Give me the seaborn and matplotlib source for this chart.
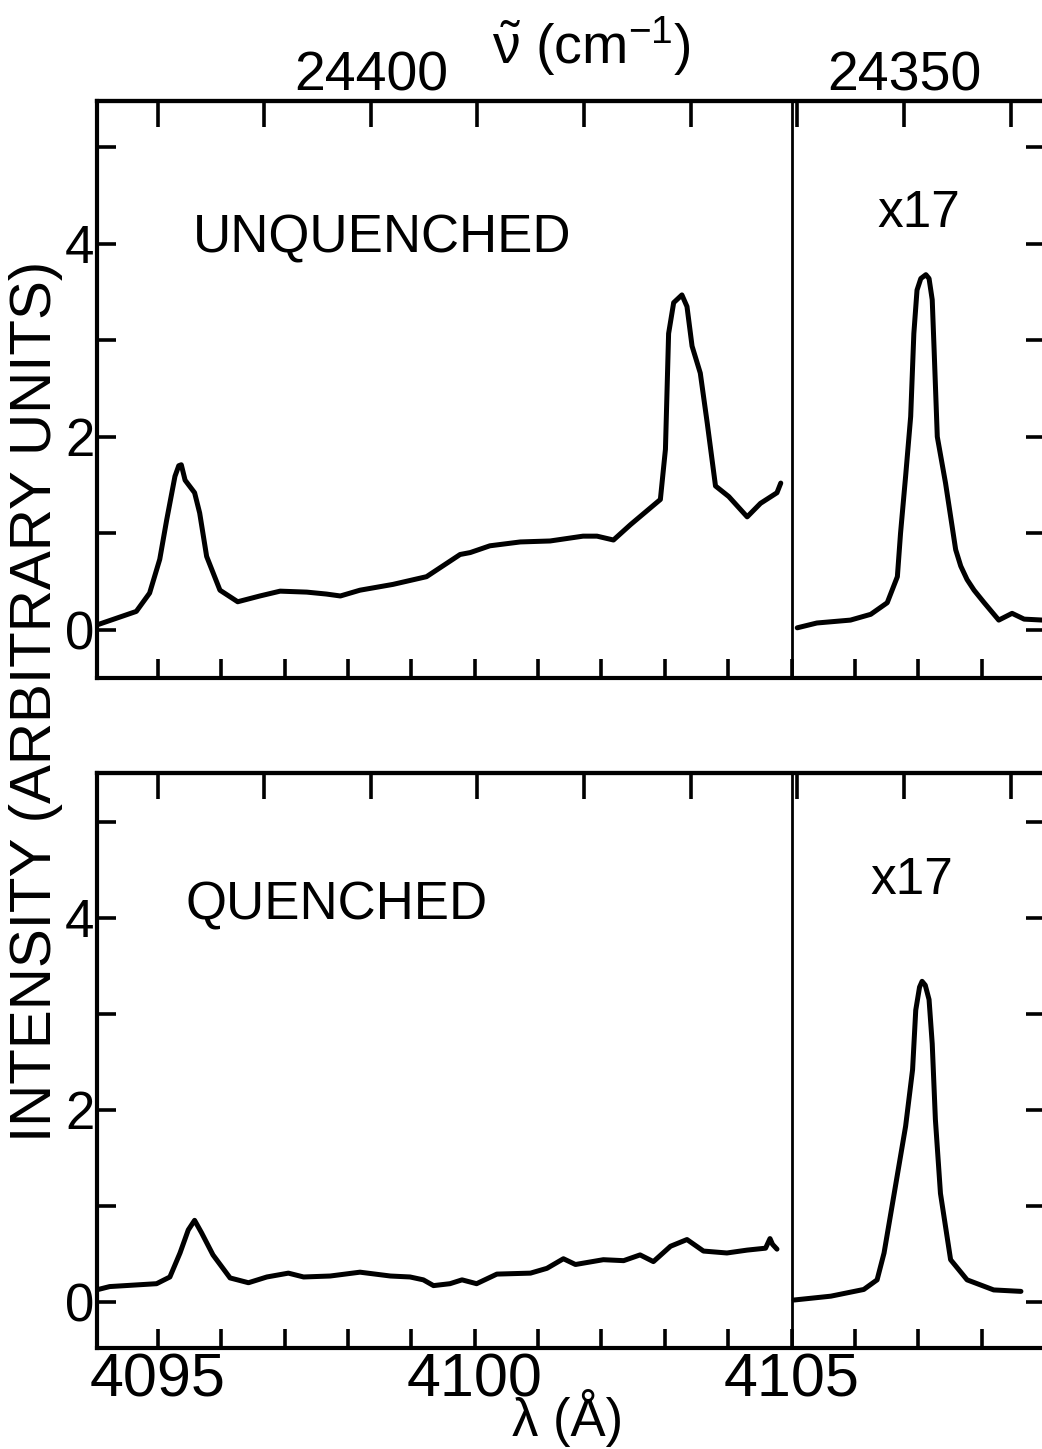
import numpy as np
import pandas as pd
import matplotlib
matplotlib.use("Agg")
import matplotlib.pyplot as plt
import seaborn as sns

# -----------------------------
# DATA
# -----------------------------
# top panel, unquenched, main window (wavelength in Angstrom, intensity arb. units)
top_left_wl = [4094.04, 4094.66, 4094.87, 4095.03, 4095.14, 4095.27, 4095.33, 4095.37,
               4095.43, 4095.58, 4095.66, 4095.77, 4095.98, 4096.26, 4096.61, 4096.93,
               4097.35, 4097.66, 4097.88, 4098.19, 4098.71, 4099.24, 4099.77, 4099.93,
               4100.24, 4100.72, 4101.19, 4101.71, 4101.93, 4102.19, 4102.46, 4102.93,
               4103.01, 4103.06, 4103.14, 4103.27, 4103.35, 4103.43, 4103.56, 4103.67,
               4103.80, 4104.01, 4104.30, 4104.51, 4104.77, 4104.83]
top_left_int = [0.05, 0.19, 0.38, 0.73, 1.14, 1.59, 1.70, 1.71,
                1.55, 1.42, 1.21, 0.76, 0.41, 0.29, 0.35, 0.40,
                0.39, 0.37, 0.35, 0.41, 0.47, 0.55, 0.78, 0.80,
                0.87, 0.91, 0.92, 0.97, 0.97, 0.93, 1.09, 1.35,
                1.87, 3.07, 3.39, 3.47, 3.35, 2.94, 2.66, 2.14,
                1.49, 1.38, 1.17, 1.31, 1.42, 1.52]

# top panel, x17 window
top_right_wl = [4105.09, 4105.40, 4105.93, 4106.25, 4106.51, 4106.67, 4106.72, 4106.80,
                4106.88, 4106.93, 4106.98, 4107.04, 4107.12, 4107.17, 4107.22, 4107.25,
                4107.30, 4107.43, 4107.59, 4107.67, 4107.77, 4107.88, 4108.04, 4108.27,
                4108.48, 4108.67, 4108.97]
top_right_int = [0.02, 0.07, 0.10, 0.16, 0.28, 0.55, 1.00, 1.59,
                 2.21, 3.07, 3.52, 3.64, 3.68, 3.64, 3.42, 2.90,
                 2.00, 1.52, 0.83, 0.66, 0.52, 0.41, 0.28, 0.10,
                 0.17, 0.11, 0.10]

# bottom panel, quenched, main window
bot_left_wl = [4094.00, 4094.24, 4094.98, 4095.19, 4095.35, 4095.48, 4095.58, 4095.69,
               4095.87, 4096.14, 4096.43, 4096.72, 4097.06, 4097.30, 4097.72, 4098.19,
               4098.67, 4098.98, 4099.19, 4099.35, 4099.61, 4099.80, 4100.03, 4100.35,
               4100.88, 4101.14, 4101.40, 4101.59, 4102.03, 4102.35, 4102.61, 4102.82,
               4103.09, 4103.35, 4103.61, 4103.98, 4104.30, 4104.59, 4104.66, 4104.70,
               4104.77]
bot_left_int = [0.12, 0.16, 0.19, 0.26, 0.51, 0.75, 0.85, 0.72,
                0.49, 0.25, 0.20, 0.26, 0.30, 0.26, 0.27, 0.31,
                0.27, 0.26, 0.23, 0.17, 0.19, 0.23, 0.19, 0.29,
                0.30, 0.35, 0.45, 0.39, 0.44, 0.43, 0.49, 0.42,
                0.58, 0.65, 0.53, 0.51, 0.54, 0.56, 0.66, 0.60,
                0.55]

# bottom panel, x17 window
bot_right_wl = [4105.04, 4105.62, 4106.14, 4106.35, 4106.46, 4106.62, 4106.80, 4106.91,
                4106.96, 4107.02, 4107.06, 4107.11, 4107.17, 4107.22, 4107.27, 4107.35,
                4107.51, 4107.77, 4108.19, 4108.62]
bot_right_int = [0.02, 0.06, 0.13, 0.23, 0.51, 1.13, 1.83, 2.42,
                 3.04, 3.28, 3.34, 3.30, 3.15, 2.69, 1.90, 1.13,
                 0.44, 0.23, 0.125, 0.11]

panel_names = ["UNQUENCHED", "QUENCHED"]
scale_label = "x17"
wl_ticks = list(range(4095, 4109))
wl_labels = [str(t) if t in (4095, 4100, 4105) else "" for t in wl_ticks]
nu_ticks = list(range(24340, 24430, 10))
nu_labels = [str(t) if t in (24400, 24350) else "" for t in nu_ticks]
y_ticks = [0, 1, 2, 3, 4, 5]
y_labels = ["0", "", "2", "", "4", ""]

# -----------------------------
# STYLE
# -----------------------------
sns.set_style("white")
plt.rcParams["font.family"] = ["Liberation Sans", "DejaVu Sans"]
plt.rcParams["text.color"] = "black"
plt.rcParams["mathtext.fontset"] = "custom"
plt.rcParams["mathtext.rm"] = "Liberation Sans"
plt.rcParams["mathtext.it"] = "Liberation Sans"

fig = plt.figure(figsize=(10.42, 14.49), dpi=100)
ax_top = fig.add_axes([0.0931, 0.5321, 0.9098, 0.3982])
ax_bot = fig.add_axes([0.0931, 0.0697, 0.9098, 0.3968])

panels = [
    (ax_top, top_left_wl, top_left_int, top_right_wl, top_right_int, (-0.50, 5.48)),
    (ax_bot, bot_left_wl, bot_left_int, bot_right_wl, bot_right_int, (-0.48, 5.51)),
]

for i, (ax, lw_, li, rw, ri, ylim) in enumerate(panels):
    left = pd.DataFrame({"wl": lw_, "inten": li})
    right = pd.DataFrame({"wl": rw, "inten": ri})
    for d in (left, right):
        sns.lineplot(data=d, x="wl", y="inten", ax=ax, color="black", lw=3.6,
                     sort=False, solid_joinstyle="round", solid_capstyle="round")
    ax.axvline(4105, color="black", lw=2.0)
    ax.set_xlim(4094.04, 4109.0)
    ax.set_ylim(*ylim)
    ax.set_xlabel("")
    ax.set_ylabel("")

    for s in ["left", "bottom", "top", "right"]:
        ax.spines[s].set_linewidth(3)
        ax.spines[s].set_color("black")

    ax.set_yticks(y_ticks)
    ax.set_yticklabels(y_labels)
    ax.tick_params(axis="y", left=True, right=True, direction="in", length=14,
                   width=2.6, labelsize=38, pad=2, colors="black")

    ax.set_xticks(wl_ticks)
    ax.set_xticklabels(wl_labels if i == 1 else [""] * len(wl_ticks))
    ax.tick_params(axis="x", bottom=True, top=False, direction="in", length=14,
                   width=2.6, labelsize=44, pad=3, colors="black")

    # wavenumber scale on top
    sec = ax.secondary_xaxis("top", functions=(lambda x: 1e8 / x, lambda x: 1e8 / x))
    sec.set_xticks(nu_ticks)
    sec.set_xticklabels(nu_labels if i == 0 else [""] * len(nu_ticks))
    sec.tick_params(direction="in", length=19, width=2.6, labelsize=40, pad=-1,
                    colors="black")
    sec.spines["top"].set_linewidth(3)

fig.text(0.185, 0.8357, panel_names[0], fontsize=38, ha="left", va="center")
fig.text(0.1785, 0.3754, panel_names[1], fontsize=38, ha="left", va="center")
fig.text(0.8417, 0.8530, scale_label, fontsize=37, ha="left", va="center")
fig.text(0.835, 0.3920, scale_label, fontsize=37, ha="left", va="center")

fig.text(0.035, 0.516, "INTENSITY (ARBITRARY UNITS)", fontsize=42, rotation=90,
         ha="center", va="center")
fig.text(0.545, 1 - 1436 / 1449, "λ (Å)", fontsize=38, ha="center", va="baseline")
fig.text(0.472, 0.968, r"$\tilde{\nu}$ (cm$^{-1}$)", fontsize=40, ha="left", va="center")

fig.savefig("out.png", dpi=100, facecolor="white")
